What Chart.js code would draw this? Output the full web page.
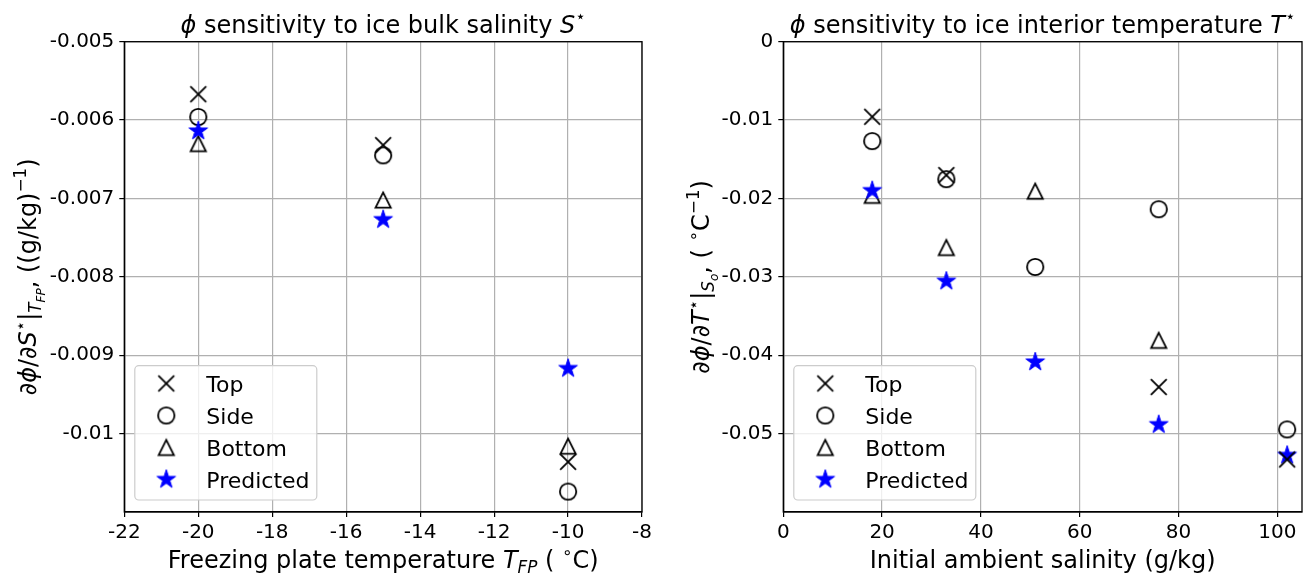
<!DOCTYPE html>
<html lang="en">
<head>
<meta charset="UTF-8">
<title>phi sensitivity</title>
<style>
  html, body { margin: 0; padding: 0; background: #fff; }
  .panel { position: absolute; top: 0; width: 656px; height: 574px; }
  #leftPanel { left: 0; }
  #rightPanel { left: 656px; }
</style>
</head>
<body>
<div class="panel" id="leftPanel"><canvas id="leftChart" width="656" height="574"></canvas></div>
<div class="panel" id="rightPanel"><canvas id="rightChart" width="656" height="574"></canvas></div>

<script src="https://cdn.jsdelivr.net/npm/chart.js"></script>
<script>
// ---- data ----
const seriesNames = ['Top', 'Side', 'Bottom', 'Predicted'];

// left panel: sensitivity to bulk salinity vs freezing plate temperature
const plateTemps = [-20, -15, -10];
const salTop = [-0.00567, -0.00632, -0.01036];
const salSide = [-0.00596, -0.00645, -0.01074];
const salBottom = [-0.0063, -0.00702, -0.01016];
const salPredicted = [-0.00614, -0.00727, -0.00917];
const leftXTicks = [-22, -20, -18, -16, -14, -12, -10, -8];
const leftYTicks = [-0.005, -0.006, -0.007, -0.008, -0.009, -0.01];
const leftYLabels = ['-0.005', '-0.006', '-0.007', '-0.008', '-0.009', '-0.01'];

// right panel: sensitivity to interior temperature vs ambient salinity
const ambientSal = [18, 33, 51, 76, 102];
const tempTop = [-0.00958, -0.01702, null, -0.04406, -0.0533];
const tempSide = [-0.01268, -0.01754, -0.02874, -0.02137, -0.04946];
const tempBottom = [-0.0196, -0.02626, -0.01907, -0.0381, null];
const tempPredicted = [-0.019, -0.03056, -0.04087, -0.04886, -0.05278];
const rightXTicks = [0, 20, 40, 60, 80, 100];
const rightYTicks = [0, -0.01, -0.02, -0.03, -0.04, -0.05];
const rightYLabels = ['0', '-0.01', '-0.02', '-0.03', '-0.04', '-0.05'];

// ---- text pieces (mathtext-like) ----
const leftTitle = [{t: 'ϕ', i: 1}, {t: ' sensitivity to ice bulk salinity '}, {t: 'S', i: 1}, {t: '⋆', sup: 1}];
const rightTitle = [{t: 'ϕ', i: 1}, {t: ' sensitivity to ice interior temperature '}, {t: 'T', i: 1}, {t: '⋆', sup: 1}];
const leftXTitle = [{t: 'Freezing plate temperature '}, {t: 'T', i: 1}, {t: 'FP', i: 1, sub: 1}, {t: ' ( '}, {t: '∘', sup: 1}, {t: 'C)'}];
const rightXTitle = [{t: 'Initial ambient salinity (g/kg)'}];
const leftYTitle = [{t: '∂ϕ', i: 1}, {t: '/'}, {t: '∂S', i: 1}, {t: '⋆', sup: 1}, {t: '|'}, {t: 'T', i: 1, sub: 1}, {t: 'FP', i: 1, subsub: 1}, {t: ', ((g/kg)'}, {t: '−1', sup: 1}, {t: ')'}];
const rightYTitle = [{t: '∂ϕ', i: 1}, {t: '/'}, {t: '∂T', i: 1}, {t: '⋆', sup: 1}, {t: '|'}, {t: 'S', i: 1, sub: 1}, {t: 'o', i: 1, subsub: 1}, {t: ', ( '}, {t: '∘', sup: 1}, {t: 'C'}, {t: '−1', sup: 1}, {t: ')'}];

const FONT = "'DejaVu Sans', sans-serif";
const TICK_FS = 20;
const LEGEND_FS = 22;
const LABEL_FS = 24;

// ---- marker images ----
function makeMarker(kind) {
  const c = document.createElement('canvas');
  c.width = 26; c.height = 26;
  const g = c.getContext('2d');
  const m = 13;
  g.lineWidth = 1.8;
  g.strokeStyle = '#000';
  if (kind === 'x') {
    const h = 7.9;
    g.beginPath();
    g.moveTo(m - h, m - h); g.lineTo(m + h, m + h);
    g.moveTo(m - h, m + h); g.lineTo(m + h, m - h);
    g.stroke();
  } else if (kind === 'o') {
    g.beginPath();
    g.arc(m, m, 8.2, 0, Math.PI * 2);
    g.stroke();
  } else if (kind === '^') {
    const h = 7.6;
    g.lineJoin = 'miter';
    g.beginPath();
    g.moveTo(m, m - h); g.lineTo(m - h, m + h); g.lineTo(m + h, m + h);
    g.closePath();
    g.stroke();
  } else {
    const R = 9.8, r = R * 0.381966;
    g.beginPath();
    for (let k = 0; k < 10; k++) {
      const a = -Math.PI / 2 + k * Math.PI / 5;
      const rr = k % 2 ? r : R;
      g.lineTo(m + rr * Math.cos(a), m + rr * Math.sin(a));
    }
    g.closePath();
    g.fillStyle = '#0000ff';
    g.strokeStyle = '#0000ff';
    g.lineWidth = 1;
    g.fill();
    g.stroke();
  }
  return c;
}
const markers = [makeMarker('x'), makeMarker('o'), makeMarker('^'), makeMarker('*')];

function toPoints(xs, ys) {
  const pts = [];
  xs.forEach((x, i) => { if (ys[i] !== null) pts.push({x: x, y: ys[i]}); });
  return pts;
}

// ---- rich text drawing ----
function segFont(s, fs) {
  let sz = fs;
  if (s.sup || s.sub) sz = fs * 0.7;
  if (s.subsub) sz = fs * 0.5;
  return (s.i ? 'italic ' : '') + sz + 'px ' + FONT;
}
function drawRich(ctx, segs, x, y, fs, rotate) {
  ctx.save();
  ctx.translate(x, y);
  if (rotate) ctx.rotate(-Math.PI / 2);
  ctx.textBaseline = 'alphabetic';
  ctx.textAlign = 'left';
  ctx.fillStyle = '#000';
  let total = 0;
  const widths = segs.map(s => { ctx.font = segFont(s, fs); const w = ctx.measureText(s.t).width; total += w; return w; });
  let cx = -total / 2;
  segs.forEach((s, i) => {
    ctx.font = segFont(s, fs);
    let dy = 0;
    if (s.sup) dy = -fs * 0.42;
    if (s.sub) dy = fs * 0.22;
    if (s.subsub) dy = fs * 0.36;
    ctx.fillText(s.t, cx, dy);
    cx += widths[i];
  });
  ctx.restore();
}

// frame, titles and legend
const decorPlugin = {
  id: 'decor',
  afterDraw(chart, args, opts) {
    const ctx = chart.ctx;
    const a = chart.chartArea;
    ctx.save();
    ctx.strokeStyle = '#000';
    ctx.lineWidth = 1.3;
    ctx.strokeRect(a.left, a.top, a.right - a.left, a.bottom - a.top);
    ctx.restore();

    const mid = (a.left + a.right) / 2;
    drawRich(ctx, opts.title, mid, 32.5, LABEL_FS, false);
    drawRich(ctx, opts.xTitle, mid, 568, LABEL_FS, false);
    drawRich(ctx, opts.yTitle, opts.yTitleX, (a.top + a.bottom) / 2, LABEL_FS, true);

    // legend box
    const bx = a.left + 10.5, by = 365.7, bw = 182, bh = 134.3;
    ctx.save();
    ctx.beginPath();
    ctx.roundRect(bx, by, bw, bh, 4);
    ctx.fillStyle = 'rgba(255,255,255,0.8)';
    ctx.fill();
    ctx.strokeStyle = '#cccccc';
    ctx.lineWidth = 1.2;
    ctx.stroke();
    ctx.font = LEGEND_FS + 'px ' + FONT;
    ctx.fillStyle = '#000';
    ctx.textBaseline = 'alphabetic';
    seriesNames.forEach((name, i) => {
      const ry = 383.5 + 32 * i;
      const img = markers[i];
      ctx.drawImage(img, a.left + 42 - img.width / 2, ry - img.height / 2);
      ctx.fillText(name, a.left + 82, ry + 8);
    });
    ctx.restore();
  }
};

function makeChart(id, cfg) {
  const colors = ['#000', '#000', '#000', '#0000ff'];
  const orders = [0, 2, 3, 1];
  const datasets = cfg.series.map((ys, i) => ({
    label: seriesNames[i],
    data: toPoints(cfg.xs, ys),
    pointStyle: markers[i],
    pointRadius: 9,
    borderColor: colors[i],
    backgroundColor: colors[i],
    order: orders[i]
  }));
  const gridOpts = {color: '#b0b0b0', lineWidth: 1.2, tickColor: '#000', tickLength: 5, tickWidth: 1.2};
  return new Chart(document.getElementById(id), {
    type: 'scatter',
    data: {datasets: datasets},
    options: {
      responsive: false,
      animation: false,
      devicePixelRatio: 1,
      layout: {padding: {top: 41.7, right: cfg.padRight, left: 0, bottom: 0}},
      plugins: {
        legend: {display: false},
        tooltip: {enabled: false},
        decor: {title: cfg.title, xTitle: cfg.xTitle, yTitle: cfg.yTitle, yTitleX: cfg.yTitleX}
      },
      scales: {
        x: {
          type: 'linear',
          min: cfg.xMin, max: cfg.xMax,
          afterBuildTicks: s => { s.ticks = cfg.xTicks.map(v => ({value: v})); },
          afterFit: s => { s.height = 574 - 512; },
          grid: gridOpts,
          border: {color: '#000', width: 1.3},
          ticks: {color: '#000', padding: 4, font: {family: FONT, size: TICK_FS}, maxRotation: 0,
                  callback: v => String(v)}
        },
        y: {
          type: 'linear',
          min: cfg.yMin, max: cfg.yMax,
          afterBuildTicks: s => { s.ticks = cfg.yTicks.map(v => ({value: v})); },
          afterFit: s => { s.width = cfg.axisLeft; },
          grid: gridOpts,
          border: {color: '#000', width: 1.3},
          ticks: {color: '#000', padding: 5, font: {family: FONT, size: TICK_FS},
                  callback: (v, idx) => cfg.yLabels[idx]}
        }
      }
    },
    plugins: [decorPlugin]
  });
}

makeChart('leftChart', {
  xs: plateTemps,
  series: [salTop, salSide, salBottom, salPredicted],
  xMin: -22, xMax: -8, yMin: -0.011, yMax: -0.005,
  xTicks: leftXTicks, yTicks: leftYTicks, yLabels: leftYLabels,
  axisLeft: 124.3, padRight: 656 - 645.7,
  title: leftTitle, xTitle: leftXTitle, yTitle: leftYTitle, yTitleX: 36
});

makeChart('rightChart', {
  xs: ambientSal,
  series: [tempTop, tempSide, tempBottom, tempPredicted],
  xMin: 0, xMax: 105, yMin: -0.06, yMax: 0,
  xTicks: rightXTicks, yTicks: rightYTicks, yLabels: rightYLabels,
  axisLeft: 783.3 - 656, padRight: 656 - 1305,
  title: rightTitle, xTitle: rightXTitle, yTitle: rightYTitle, yTitleX: 709 - 656
});
</script>
</body>
</html>
